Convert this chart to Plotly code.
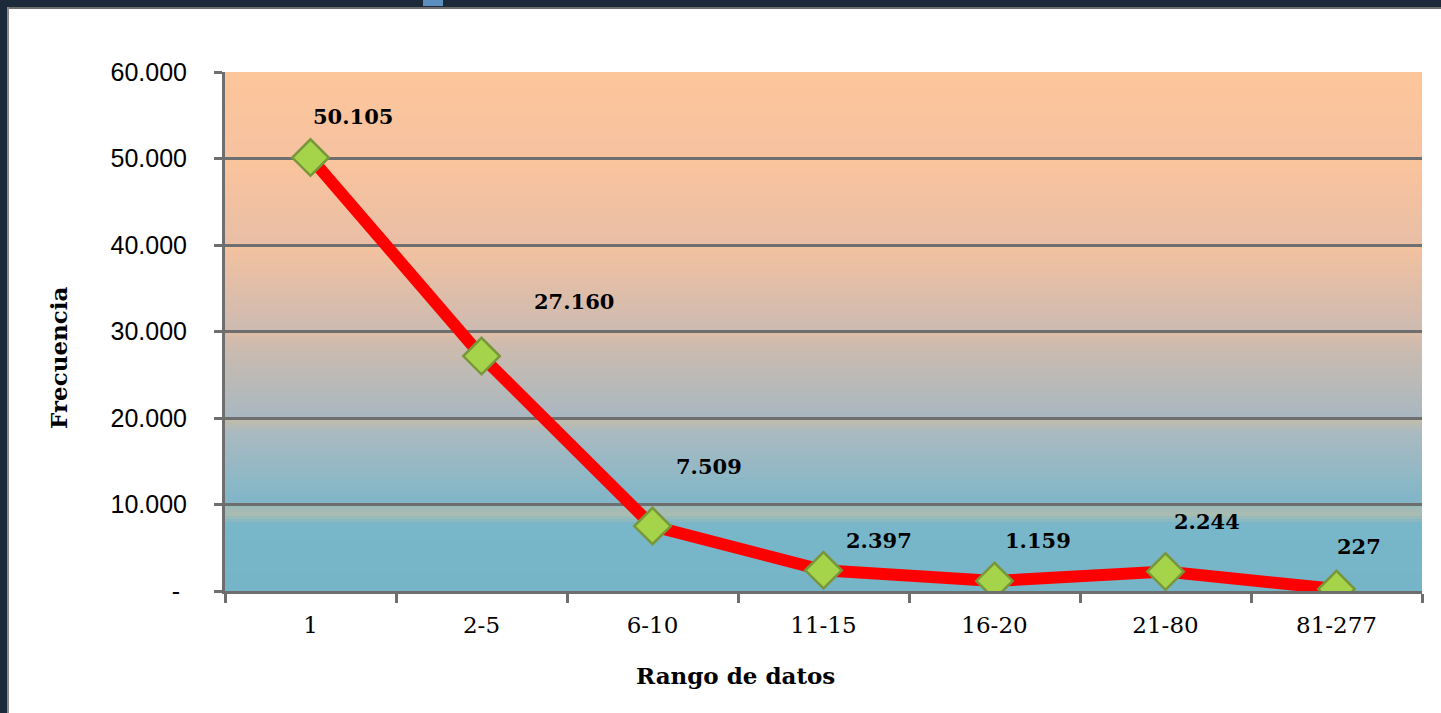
import plotly.graph_objects as go

# ---- data ----
categories = ["1", "2-5", "6-10", "11-15", "16-20", "21-80", "81-277"]
frecuencia = [50105, 27160, 7509, 2397, 1159, 2244, 227]
label_text = ["50.105", "27.160", "7.509", "2.397", "1.159", "2.244", "227"]
y_tick_vals = [0, 10000, 20000, 30000, 40000, 50000, 60000]
y_tick_text = ["-\u00a0", "10.000", "20.000", "30.000", "40.000", "50.000", "60.000"]

# label offsets (pixels) relative to each point
label_dx = [42, 92, 56, 55, 43, 41, 22]
label_dy = [41, 55, 60, 30, 40, 50, 43]

W, H = 1441, 713
L, R, T, B = 225, 1422, 72, 591


def px(x):
    return (x - L) / (R - L)


def py(y):
    return (B - y) / (B - T)


def hex2rgb(h):
    h = h.lstrip("#")
    return tuple(int(h[i:i + 2], 16) for i in (0, 2, 4))


# background gradient stops (pixel row -> colour)
stops = [
    (72, "#FDC59A"), (156, "#F6C2A0"),
    (160, "#FAC49C"), (243, "#E9BEA6"),
    (247, "#F3C29F"), (258, "#EEC0A2"), (329, "#CDBAB1"),
    (333, "#DCBEA8"), (345, "#CDBBAE"), (416, "#A9B8C0"),
    (420, "#C2BCAA"), (432, "#AABAC0"), (502, "#80B6C8"),
    (506, "#9DBABA"), (514, "#AABCB0"), (524, "#78B6C9"),
    (591, "#76B5C8"),
]


def colour_at(yp):
    for (y0, c0), (y1, c1) in zip(stops[:-1], stops[1:]):
        if y0 <= yp <= y1:
            t = 0 if y1 == y0 else (yp - y0) / (y1 - y0)
            a, b = hex2rgb(c0), hex2rgb(c1)
            return "rgb(%d,%d,%d)" % tuple(round(a[i] + (b[i] - a[i]) * t) for i in range(3))
    return "rgb(118,181,200)"


shapes = []
step = 3
yp = T
while yp < B:
    y2 = min(yp + step, B)
    shapes.append(dict(type="rect", xref="paper", yref="paper", layer="below",
                       x0=0, x1=1, y0=py(y2), y1=py(yp), line=dict(width=0),
                       fillcolor=colour_at(yp + step / 2)))
    yp = y2

# outer frame
frame = "#1C2A3A"
shapes += [
    dict(type="rect", xref="paper", yref="paper", layer="above", x0=px(0), x1=px(W), y0=py(0), y1=py(7),
         fillcolor=frame, line=dict(width=0)),
    dict(type="rect", xref="paper", yref="paper", layer="above", x0=px(0), x1=px(7), y0=py(0), y1=py(H),
         fillcolor=frame, line=dict(width=0)),
    dict(type="rect", xref="paper", yref="paper", layer="above", x0=px(7), x1=px(W), y0=py(7), y1=py(9),
         fillcolor="#6E6E6E", line=dict(width=0)),
    dict(type="rect", xref="paper", yref="paper", layer="above", x0=px(7), x1=px(9), y0=py(7), y1=py(H),
         fillcolor="#8A8A8A", line=dict(width=0)),
    dict(type="rect", xref="paper", yref="paper", layer="above", x0=px(423), x1=px(443), y0=py(0), y1=py(6),
         fillcolor="#5B8FBF", line=dict(width=0)),
]

fig = go.Figure()
fig.add_trace(go.Scatter(
    x=categories, y=frecuencia, mode="lines+markers",
    line=dict(color="#FF0000", width=12),
    marker=dict(symbol="diamond", size=28, color="#A5D44B",
                line=dict(color="#77973A", width=2.5)),
    hoverinfo="skip", showlegend=False,
))

annotations = []
for i, (v, t, dx, dy) in enumerate(zip(frecuencia, label_text, label_dx, label_dy)):
    annotations.append(dict(x=i, y=v, xref="x", yref="y", text="<b>%s</b>" % t, showarrow=False,
                            xshift=dx, yshift=dy,
                            font=dict(family="DejaVu Serif", size=21, color="#000000")))

annotations.append(dict(x=px(735), y=py(675), xref="paper", yref="paper", text="<b>Rango de datos</b>",
                        xanchor="center", yanchor="middle", showarrow=False,
                        font=dict(family="DejaVu Serif", size=23, color="#000000")))
annotations.append(dict(x=px(58), y=py(358), xref="paper", yref="paper", text="<b>Frecuencia</b>",
                        xanchor="center", yanchor="middle", showarrow=False, textangle=-90,
                        font=dict(family="DejaVu Serif", size=23, color="#000000")))

fig.update_layout(
    width=W, height=H,
    margin=dict(l=L, r=W - R, t=T, b=H - B, pad=0),
    paper_bgcolor="#FFFFFF", plot_bgcolor="#FFFFFF",
    shapes=shapes, annotations=annotations,
    xaxis=dict(type="category", range=[-0.5, 6.5], tickson="boundaries", ticks="outside",
               ticklen=9, tickwidth=2.5, tickcolor="#6E6E6E", showgrid=False,
               showline=True, linecolor="#6E6E6E", linewidth=3,
               tickfont=dict(family="DejaVu Serif", size=23, color="#000000"),
               ticklabelstandoff=11, fixedrange=True),
    yaxis=dict(range=[0, 60000], tickvals=y_tick_vals, ticktext=y_tick_text, ticks="outside",
               ticklen=8, tickwidth=2.5, tickcolor="#6E6E6E", showgrid=True, gridcolor="#6E6E6E",
               gridwidth=2.5, showline=True, linecolor="#6E6E6E", linewidth=3, zeroline=False,
               tickfont=dict(family="Liberation Sans", size=25, color="#000000"),
               ticklabelstandoff=22, fixedrange=True),
)

fig.write_html("out.html", config={"displayModeBar": False},
               post_script="document.body.style.margin='0';document.body.style.overflow='hidden';")
